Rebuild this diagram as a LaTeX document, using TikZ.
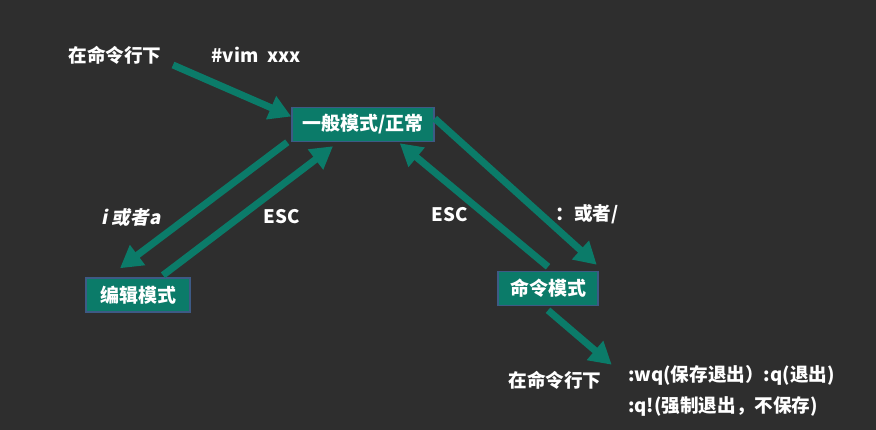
\documentclass[tikz,border=0pt]{standalone}
\usepackage{fontspec}
\setmainfont{Noto Sans CJK SC}
\newfontfamily\slantfont{Noto Sans CJK SC}[FakeSlant=0.2]
\usetikzlibrary{arrows.meta}
\definecolor{board}{HTML}{2E2E2E}
\definecolor{vimgreen}{HTML}{0B7B69}
\definecolor{modeedge}{HTML}{3D5A85}

\begin{document}
\begin{tikzpicture}[x=1pt,y=-1pt,%
        mode/.style={draw=modeedge, line width=1.5pt, fill=vimgreen,%
                        text=white, inner sep=0pt, minimum height=34pt,%
                        font=\bfseries\fontsize{19}{22}\selectfont},%
        lbl/.style={text=white, inner sep=0pt,%
                        font=\bfseries\fontsize{18.6}{21}\selectfont},%
        arr/.style={draw=vimgreen, line width=7pt,%
                        -{Triangle[length=22pt,width=24pt]}}]
    \fill[board] (0,0) rectangle (876,430);
    \useasboundingbox (0,0) rectangle (876,430);
    \node[mode, minimum width=142pt] (normal) at (363,124.5) {一般模式/正常};
    \node[mode, minimum width=104pt] (edit) at (138,295) {编辑模式};
    \node[mode, minimum width=100pt] (command) at (548,288.5) {命令模式};
    \node[lbl] (shell) at (115,55) {在命令行下};
    \node[lbl] (vim) at (256,55) {\#vim\ \ xxx};
    \node[lbl] (insert) at (131,217) {\slantfont\bfseries i 或者a};
    \node[lbl] (escleft) at (282,217) {ESC};
    \node[lbl] (escright) at (450,215) {ESC};
    \node[lbl] (colon) at (587,214) {：或者/};
    \node[lbl] (shellcmd) at (555,380) {在命令行下};
    \node[lbl, anchor=west] (wq) at (628,375) {:wq(保存退出）:q(退出)};
    \node[lbl, anchor=west] (quit) at (628,406) {:q!(强制退出，不保存)};
    \coordinate (open) at (173,65);
    \draw[arr] (open) -- ([yshift=8pt]normal.west);
    \draw[arr] ([xshift=-4pt]normal.south west) -- ([xshift=-18pt,yshift=9pt]edit.north);
    \draw[arr] ([xshift=25pt,yshift=2pt]edit.north) -- ([xshift=-30pt,yshift=-4pt]normal.south);
    \draw[arr] ([yshift=4pt]command.north) -- ([xshift=-35pt,yshift=-1pt]normal.south east);
    \draw[arr] ([yshift=6pt]normal.east) -- ([xshift=-2pt,yshift=6pt]command.north east);
    \draw[arr] ([yshift=-4pt]command.south) -- ([xshift=10pt,yshift=6pt]shellcmd.north east);
\end{tikzpicture}
\end{document}
